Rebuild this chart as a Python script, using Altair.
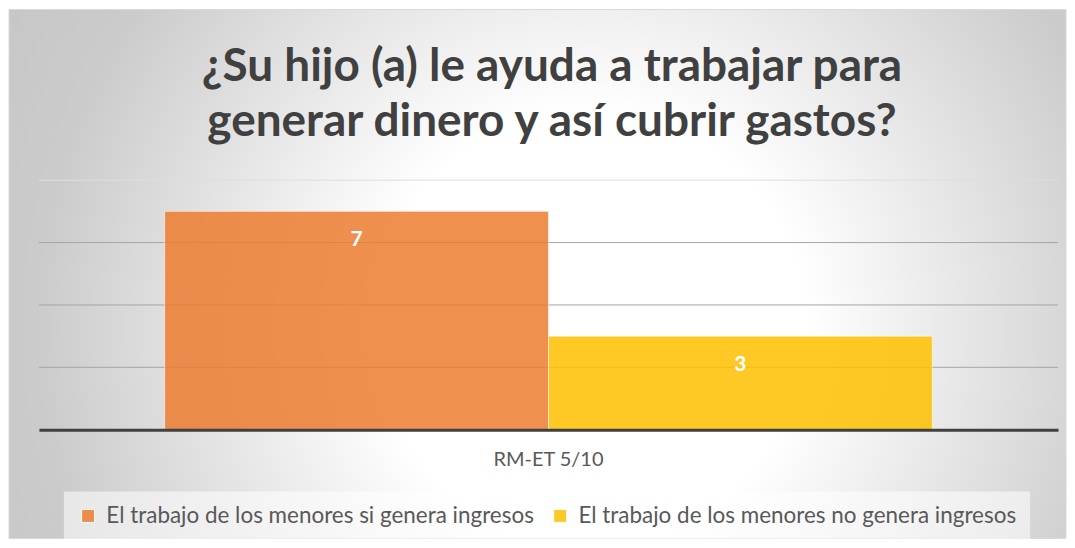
import altair as alt
import pandas as pd

# ---- data ----
title_lines = ["¿Su hijo (a) le ayuda a trabajar para", "generar dinero y así cubrir gastos?"]
category = ["RM-ET 5/10", "RM-ET 5/10"]
series = ["El trabajo de los menores si genera ingresos",
          "El trabajo de los menores no genera ingresos"]
values = [7, 3]
colors = ["#ED7D31", "#FFC000"]
grid_values = [2, 4, 6, 8]

df = pd.DataFrame({"cat": category, "serie": series, "valor": values})
grid_df = pd.DataFrame({"g": grid_values})
one = pd.DataFrame({"k": [0]})

W, H = 1021, 250
FONT = "Lato"

bg_fill = {
    "gradient": "radial",
    "x1": 0.55, "y1": 0.55, "r1": 0.0,
    "x2": 0.55, "y2": 0.55, "r2": 0.75,
    "stops": [
        {"offset": 0.0, "color": "#ffffff"},
        {"offset": 0.27, "color": "#ffffff"},
        {"offset": 0.7, "color": "#cbcbcb"},
        {"offset": 1.0, "color": "#c2c2c2"},
    ],
}

background = alt.Chart(one).mark_rect(fill=bg_fill, stroke="#d9d9d9", strokeWidth=1).encode(
    x=alt.value(-30), x2=alt.value(1029), y=alt.value(-171), y2=alt.value(359)
)

y_scale = alt.Scale(domain=[0, 8], nice=False, zero=True)

grid = alt.Chart(grid_df).mark_rule(strokeWidth=1).encode(
    y=alt.Y("g:Q", scale=y_scale, title=None, axis=None),
    x=alt.value(0), x2=alt.value(W),
    color=alt.condition("datum.g == 8", alt.value("#dedede"), alt.value("#a6a6a6")),
)

x_enc = alt.X("cat:N", title=None,
              scale=alt.Scale(paddingInner=0, paddingOuter=0.1638),
              axis=alt.Axis(labelAngle=0, labelFontSize=20, labelColor="#595959", labelFont=FONT,
                            labelPadding=20, ticks=False, domainColor="#404040", domainWidth=3,
                            grid=False, zindex=1))
y_enc = alt.Y("valor:Q", title=None, scale=y_scale, axis=None)
xoff = alt.XOffset("serie:N", sort=series, scale=alt.Scale(paddingInner=0, paddingOuter=0))

bars = alt.Chart(df).mark_bar(opacity=0.85, stroke="#ffffff", strokeOpacity=0.6, strokeWidth=1).encode(
    x=x_enc, y=y_enc, xOffset=xoff,
    color=alt.Color("serie:N", sort=series, title=None,
                    scale=alt.Scale(domain=series, range=colors),
                    legend=alt.Legend(orient="none", legendX=25, legendY=312, direction="horizontal",
                                      fillColor="rgba(255,255,255,0.55)", padding=13,
                                      labelFontSize=22.5, labelFont=FONT, labelColor="#595959",
                                      labelLimit=700, symbolType="square", symbolSize=169,
                                      symbolOpacity=0.85, symbolStrokeColor="#ffffff",
                                      symbolStrokeWidth=1, labelOffset=7,
                                      columnPadding=14)),
)

labels = alt.Chart(df).mark_text(color="white", fontSize=21, fontWeight="bold", font=FONT,
                                 baseline="middle", dy=29).encode(
    x=alt.X("cat:N"), y=alt.Y("valor:Q", scale=y_scale),
    xOffset=alt.XOffset("serie:N", sort=series), text="valor:Q"
)

titles = [
    alt.Chart(one).mark_text(text=line, fontSize=46, fontWeight="bold", font=FONT, color="#404040",
                             align="center", baseline="alphabetic").encode(
        x=alt.value(514), y=alt.value(-99 + 55 * i))
    for i, line in enumerate(title_lines)
]

chart = alt.layer(background, grid, bars, labels, *titles).properties(
    width=W, height=H, padding=0, background="white"
).configure_view(stroke=None)

chart.save("out.html", embed_options={"renderer": "svg", "actions": False})
